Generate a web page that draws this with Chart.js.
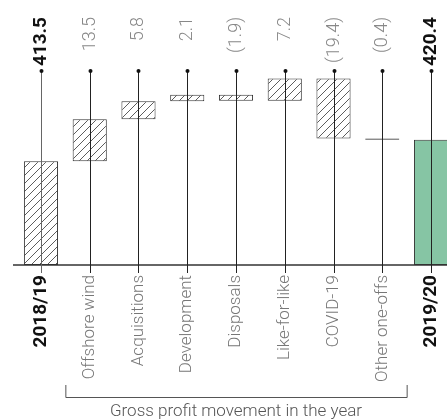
<!DOCTYPE html>
<html>
<head>
<meta charset="utf-8">
<script src="https://cdn.jsdelivr.net/npm/chart.js@4/dist/chart.umd.min.js"></script>
<style>
  html, body { margin: 0; padding: 0; overflow: hidden; background: #fff; }
  canvas { display: block; }
</style>
</head>
<body>
<canvas id="bridge" width="460" height="420"></canvas>
<script>
// values (GBP m)
const categories = ['2018/19', 'Offshore wind', 'Acquisitions', 'Development', 'Disposals', 'Like-for-like', 'COVID-19', 'Other one-offs', '2019/20'];
const openingValue = 413.5;
const movements = [13.5, 5.8, 2.1, -1.9, 7.2, -19.4, -0.4];
const closingValue = 420.4;
const valueLabels = ['413.5', '13.5', '5.8', '2.1', '(1.9)', '7.2', '(19.4)', '(0.4)', '420.4'];
const groupTitle = 'Gross profit movement in the year';

const axisMin = 380;
const axisMax = 442.6;

// floating bars: totals start on the axis, movements stack on the running total
const barData = [[axisMin, openingValue]];
let running = openingValue;
movements.forEach(m => {
  barData.push([running, running + m]);
  running += m;
});
barData.push([axisMin, closingValue]);

const isTotal = i => i === 0 || i === categories.length - 1;

// diagonal hatch
const hatchCanvas = document.createElement('canvas');
hatchCanvas.width = 8;
hatchCanvas.height = 8;
const hc = hatchCanvas.getContext('2d');
hc.fillStyle = '#fff';
hc.fillRect(0, 0, 8, 8);
hc.strokeStyle = '#333';
hc.lineWidth = 0.8;
hc.beginPath();
hc.moveTo(-1, 9); hc.lineTo(9, -1);
hc.moveTo(-1, 1); hc.lineTo(1, -1);
hc.moveTo(7, 9); hc.lineTo(9, 7);
hc.stroke();
const ctx = document.getElementById('bridge').getContext('2d');
const hatch = ctx.createPattern(hatchCanvas, 'repeat');

const lightFont = { family: 'Roboto', size: 17, weight: '300' };
const valueFont = { family: 'Roboto', size: 18, weight: '300' };
const boldFont = { family: 'Roboto', size: 19, weight: 'bold' };

const decorations = {
  id: 'decorations',
  afterDatasetsDraw(chart) {
    const c = chart.ctx;
    const x = chart.scales.x;
    const area = chart.chartArea;
    c.save();
    // baseline
    c.strokeStyle = '#333';
    c.lineWidth = 1.5;
    c.beginPath();
    c.moveTo(13, area.bottom);
    c.lineTo(chart.width, area.bottom);
    c.stroke();
    categories.forEach((cat, i) => {
      const px = Math.round(x.getPixelForValue(i)) + 0.5;
      c.strokeStyle = i === 0 ? '#666' : '#222';
      c.lineWidth = 1;
      c.beginPath();
      c.moveTo(px, area.top);
      c.lineTo(px, area.bottom + 8);
      c.stroke();
      c.fillStyle = '#111';
      c.beginPath();
      c.arc(px, area.top, 2, 0, Math.PI * 2);
      c.fill();
      // value label above the dot
      c.save();
      c.translate(px, 17);
      c.rotate(-Math.PI / 2);
      c.textAlign = 'right';
      c.textBaseline = 'middle';
      const f = isTotal(i) ? boldFont : valueFont;
      c.font = `${f.weight} ${f.size}px ${f.family}`;
      c.fillStyle = isTotal(i) ? '#111' : '#888';
      c.fillText(valueLabels[i], 0, 0);
      c.restore();
    });
    // bracket under the movement labels
    const step = x.getPixelForValue(1) - x.getPixelForValue(0);
    const bl = x.getPixelForValue(1) - step / 2;
    const br = x.getPixelForValue(categories.length - 2) + step / 2;
    c.strokeStyle = '#555';
    c.lineWidth = 1;
    c.beginPath();
    c.moveTo(bl + 0.5, 385);
    c.lineTo(bl + 0.5, 397.5);
    c.lineTo(br + 0.5, 397.5);
    c.lineTo(br + 0.5, 385);
    c.stroke();
    c.fillStyle = '#555';
    c.font = `${lightFont.weight} ${lightFont.size}px ${lightFont.family}`;
    c.textAlign = 'center';
    c.textBaseline = 'middle';
    c.fillText(groupTitle, (bl + br) / 2, 412);
    c.restore();
  }
};

new Chart(ctx, {
  type: 'bar',
  data: {
    labels: categories,
    datasets: [{
      data: barData,
      backgroundColor: categories.map((_, i) => i === categories.length - 1 ? '#86c5a4' : hatch),
      borderColor: '#333',
      borderWidth: 1,
      borderSkipped: false,
      barPercentage: 0.7,
      categoryPercentage: 1
    }]
  },
  options: {
    responsive: false,
    animation: false,
    layout: { padding: { top: 71, left: 16.6, right: 4.6, bottom: 0 } },
    plugins: { legend: { display: false }, tooltip: { enabled: false } },
    scales: {
      x: {
        grid: { display: false, drawTicks: false },
        border: { display: false },
        afterFit(scale) {
          scale.height = 155;
          scale.paddingLeft = 0;
          scale.paddingRight = 0;
        },
        ticks: {
          minRotation: 90,
          maxRotation: 90,
          autoSkip: false,
          padding: 10,
          color: c => isTotal(c.index) ? '#111' : '#777',
          font: c => isTotal(c.index) ? boldFont : lightFont
        }
      },
      y: {
        display: false,
        min: axisMin,
        max: axisMax
      }
    }
  },
  plugins: [decorations]
});
</script>
</body>
</html>
